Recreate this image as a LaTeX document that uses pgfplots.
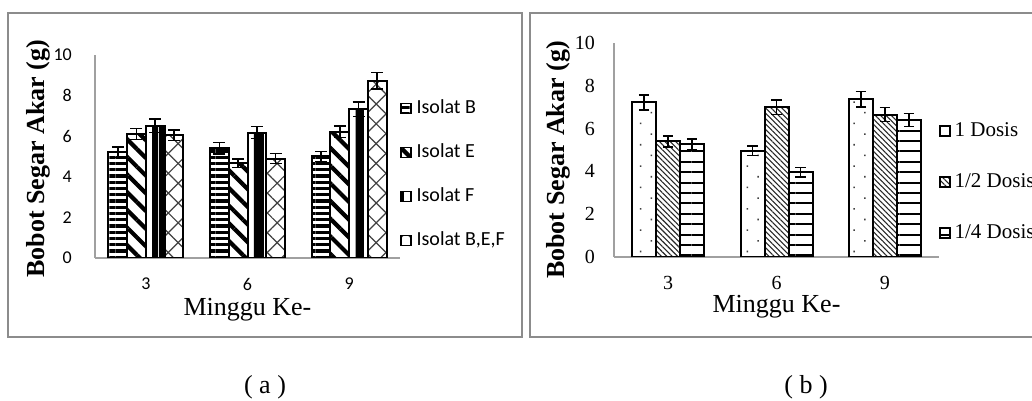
\documentclass[border=0pt]{standalone}
\usepackage{pgfplots}
\pgfplotsset{compat=1.18}
\usepackage{fontspec}
\setmainfont{Liberation Serif}
\newfontfamily\calibri{Carlito}
\usetikzlibrary{patterns.meta}

\definecolor{framegray}{HTML}{8C8C8C}
\definecolor{axisgray}{HTML}{A0A0A0}

\pgfplotsset{
  panel/.style={
    scale only axis,
    axis lines=left,
    axis line style={draw=axisgray, line width=1.2pt, -},
    ymin=0, ymax=10, ytick={0,2,...,10},
    xmin=-0.5, xmax=2.5, xtick={0,1,2}, xticklabels={3,6,9},
    major tick length=0pt,
    ybar,
    /pgf/number format/assume math mode=true,
    legend cell align=left,
    legend image code/.code={\draw[#1,/tikz/.cd,line width=1.4pt] (0pt,-5pt) rectangle (10pt,5pt);},
    xlabel style={at={(axis description cs:0.5,0)}, anchor=base, inner sep=0pt,
      text height=17pt, yshift=-56pt},
  },
  barbox/.style={fill=white, draw=black, line width=2pt},
  eb/.style={/pgfplots/error bars/y dir=both, /pgfplots/error bars/y explicit,
    /pgfplots/error bars/error bar style={line width=1.5pt, black},
    /pgfplots/error bars/error mark options={rotate=90, mark size=#1, line width=1.5pt, black}},
}

\begin{document}
\begin{tikzpicture}[x=1pt,y=1pt]
\useasboundingbox (0,0) rectangle (1032,401);

% panel frames
\draw[framegray, line width=1.5pt] (8,64) rectangle (522,388);
\draw[framegray, line width=1.5pt] (530,64) rectangle (1050,388);

% ---------- (a) isolates ----------
\begin{axis}[panel,
  at={(95pt,143pt)}, anchor=south west,
  width=305pt, height=203pt,
  bar width=18.7pt,
  tick label style={font=\calibri\fontsize{18}{20}\selectfont},
  yticklabel style={inner sep=0pt, xshift=-23pt},
  xticklabel style={inner sep=0pt, yshift=-20pt},
  xlabel={\fontsize{26}{28}\selectfont Minggu Ke-},
  xlabel style={yshift=-1.5pt},
  ylabel={\fontsize{26}{28}\selectfont\bfseries Bobot Segar Akar (g)},
  ylabel style={at={(axis description cs:-0.187,0.488)}, anchor=center},
  legend style={at={(1.0,0.411)}, anchor=west, draw=none, fill=none,
    inner sep=0pt, row sep=24pt, font=\calibri\fontsize{20}{22}\selectfont,
    nodes={inner sep=1pt, text height=14pt, text depth=4pt},
    /tikz/every odd column/.append style={column sep=4pt}},
]
\addplot[barbox, bar shift=-28.05pt,
  postaction={pattern={Lines[angle=0,distance=6.25pt,line width=3.3pt]}}, eb=6pt]
  coordinates {(0,5.21) +- (0,0.26) (1,5.41) +- (0,0.28) (2,5.00) +- (0,0.25)};
\addlegendentry{Isolat B}
\addplot[barbox, bar shift=-9.35pt,
  postaction={pattern={Lines[angle=-45,distance=12.5pt,line width=4.2pt]}}, eb=6pt]
  coordinates {(0,6.11) +- (0,0.28) (1,4.67) +- (0,0.20) (2,6.22) +- (0,0.28)};
\addlegendentry{Isolat E}
\addplot[barbox, bar shift=9.35pt,
  postaction={pattern={Lines[angle=90,distance=20pt,line width=5pt,xshift=1pt]}}, eb=6pt]
  coordinates {(0,6.51) +- (0,0.33) (1,6.18) +- (0,0.30) (2,7.32) +- (0,0.36)};
\addlegendentry{Isolat F}
\addplot[barbox, bar shift=28.05pt,
  postaction={pattern={Lines[angle=45,distance=14pt,line width=1.2pt]}, pattern color=black!75},
  postaction={pattern={Lines[angle=-45,distance=14pt,line width=1.2pt]}, pattern color=black!75}, eb=6pt]
  coordinates {(0,6.05) +- (0,0.26) (1,4.90) +- (0,0.25) (2,8.73) +- (0,0.41)};
\addlegendentry{Isolat B,E,F}
% dark centre stripe of the Isolat F bars
\addplot[forget plot, bar shift=9.35pt, bar width=6pt, fill=black, draw=none]
  coordinates {(0,6.51) (1,6.18) (2,7.32)};
\end{axis}

% ---------- (b) dose ----------
\begin{axis}[panel,
  at={(614pt,144pt)}, anchor=south west,
  width=325pt, height=214pt,
  bar width=24pt,
  tick label style={font=\fontsize{20}{22}\selectfont},
  yticklabel style={inner sep=0pt, xshift=-19pt},
  xticklabel style={inner sep=0pt, yshift=-19pt},
  xlabel={\fontsize{26}{28}\selectfont Minggu Ke-},
  ylabel={\fontsize{26}{28}\selectfont\bfseries Bobot Segar Akar (g)},
  ylabel style={at={(axis description cs:-0.172,0.453)}, anchor=center},
  legend style={at={(1.0,0.350)}, anchor=west, draw=none, fill=none,
    inner sep=0pt, row sep=31pt, font=\fontsize{21}{23}\selectfont,
    nodes={inner sep=1pt, text height=14pt, text depth=4pt},
    /tikz/every odd column/.append style={column sep=3pt}},
]
\addplot[barbox, bar shift=-24pt,
  postaction={pattern={Dots[angle=45,distance=15.1pt,radius=1.1pt]}, pattern color=black!75}, eb=5.3pt]
  coordinates {(0,7.22) +- (0,0.34) (1,4.97) +- (0,0.22) (2,7.38) +- (0,0.36)};
\addlegendentry{1 Dosis}
\addplot[barbox, bar shift=0pt,
  postaction={pattern={Lines[angle=-45,distance=3.8pt,line width=1.1pt]}, pattern color=black!85}, eb=5.3pt]
  coordinates {(0,5.40) +- (0,0.25) (1,6.99) +- (0,0.34) (2,6.65) +- (0,0.33)};
\addlegendentry{1/2 Dosis}
\addplot[barbox, bar shift=24pt,
  postaction={pattern={Lines[angle=0,distance=10.4pt,line width=2pt]}}, eb=5.3pt]
  coordinates {(0,5.26) +- (0,0.25) (1,3.96) +- (0,0.22) (2,6.40) +- (0,0.31)};
\addlegendentry{1/4 Dosis}
\end{axis}

% panel captions
\node[font=\fontsize{26}{28}\selectfont, anchor=base] at (265,7) {( a )};
\node[font=\fontsize{26}{28}\selectfont, anchor=base] at (806,7) {( b )};
\end{tikzpicture}
\end{document}
